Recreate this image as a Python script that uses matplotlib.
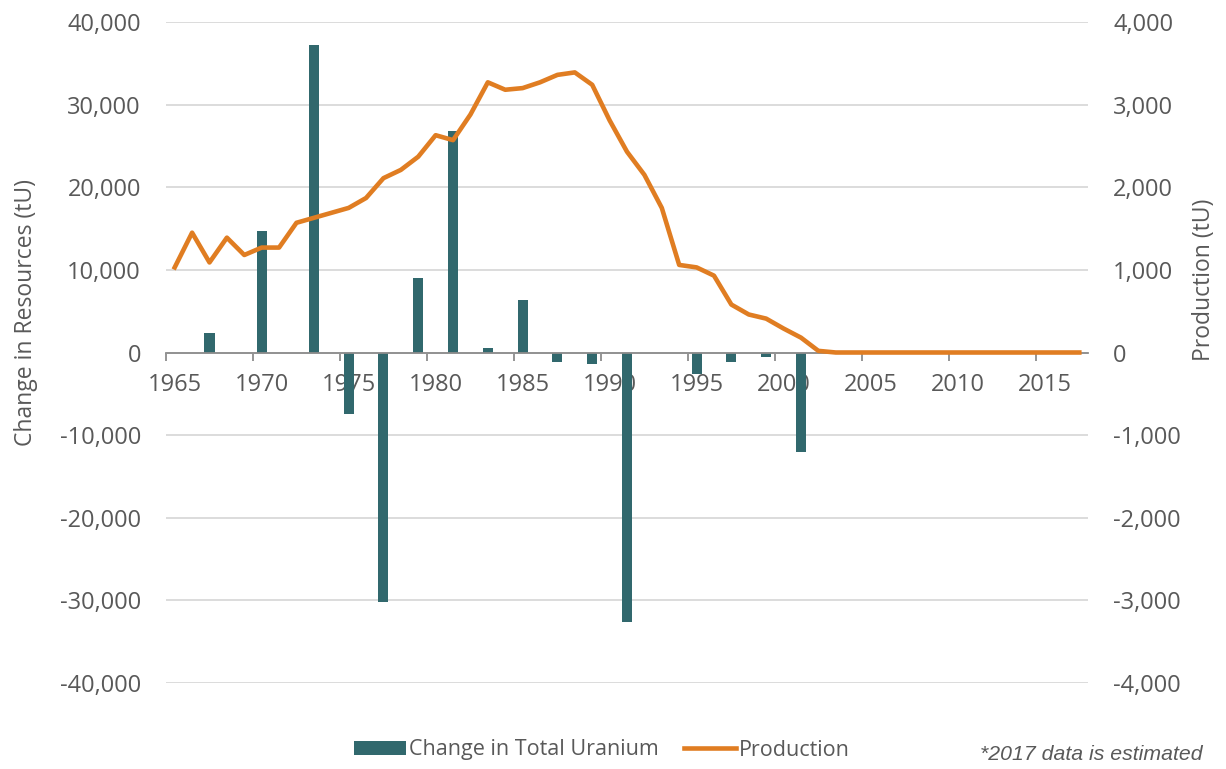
import matplotlib
matplotlib.use("Agg")
import matplotlib.pyplot as plt
from matplotlib.ticker import FuncFormatter, FixedLocator
import numpy as np

# ---- data ----
years = list(range(1965, 2018))
change_years = [1967, 1970, 1973, 1975, 1977, 1979, 1981, 1983, 1985,
                1987, 1989, 1991, 1995, 1997, 1999, 2001]
change_values = [2400, 14700, 37200, -7500, -30200, 9000, 26800, 600, 6300,
                 -1200, -1400, -32600, -2650, -1200, -500, -12000]
production = [1030, 1450, 1090, 1390, 1180, 1270, 1270, 1570, 1630, 1690,
              1750, 1870, 2110, 2210, 2370, 2630, 2570, 2880, 3270, 3180,
              3200, 3270, 3360, 3390, 3240, 2810, 2430, 2150, 1750, 1060,
              1030, 930, 580, 460, 410, 290, 180, 20, 0, 0,
              0, 0, 0, 0, 0, 0, 0, 0, 0, 0,
              0, 0, 0]
label_years = [1965, 1970, 1975, 1980, 1985, 1990, 1995, 2000, 2005, 2010, 2015]

BAR = "#31686D"
LINE = "#E07D22"
TXT = "#595959"
GRID = "#D9D9D9"
FONT = "Open Sans"

fig = plt.figure(figsize=(12.26, 7.69), dpi=100)
ax = fig.add_axes([166/1226, 86/769, 922/1226, 661/769])
ax2 = ax.twinx()

ax.bar(change_years, change_values, width=0.58, color=BAR, zorder=2,
       label="Change in Total Uranium")
ax2.plot(years, production, color=LINE, lw=3.3, solid_joinstyle="round",
         label="Production", zorder=3)

ax.set_xlim(1964.5, 2017.5)
ax.set_ylim(-40000, 40000)
ax2.set_ylim(-4000, 4000)

ax.set_yticks(np.arange(-40000, 40001, 10000))
ax2.set_yticks(np.arange(-4000, 4001, 1000))
fmt = FuncFormatter(lambda v, p: f"{int(round(v)):,}")
ax.yaxis.set_major_formatter(fmt)
ax2.yaxis.set_major_formatter(fmt)

ax.set_xticks(label_years)
ax.set_xticklabels([str(y) for y in label_years])
ax.xaxis.set_minor_locator(FixedLocator([y - 0.5 for y in label_years]))

for s in ["top", "left", "right"]:
    ax.spines[s].set_visible(False)
for s in ["top", "left", "right", "bottom"]:
    ax2.spines[s].set_visible(False)
ax.spines["bottom"].set_position(("data", 0))
ax.spines["bottom"].set_color("#8C8C8C")
ax.spines["bottom"].set_linewidth(1.3)
ax.spines["bottom"].set_zorder(2.5)

ax.grid(axis="y", color=GRID, lw=1.3, zorder=0)
ax.set_axisbelow(True)

ax.tick_params(axis="x", which="major", length=0, pad=15, labelsize=17, labelcolor=TXT)
ax.tick_params(axis="x", which="minor", length=6, width=1.3, color="#8C8C8C", direction="out")
ax.tick_params(axis="y", length=0, pad=18, labelsize=17, labelcolor=TXT)
ax2.tick_params(axis="y", length=0, pad=18, labelsize=17, labelcolor=TXT)
for lab in ax.get_xticklabels() + ax.get_yticklabels() + ax2.get_yticklabels():
    lab.set_fontfamily(FONT)

fig.text(26/1226, 1 - 312/769, "Change in Resources (tU)", rotation=90,
         ha="center", va="center", fontsize=16.5, color=TXT, family=FONT)
fig.text(1204/1226, 1 - 280/769, "Production (tU)", rotation=90,
         ha="center", va="center", fontsize=16.5, color=TXT, family=FONT)

h1, l1 = ax.get_legend_handles_labels()
h2, l2 = ax2.get_legend_handles_labels()
fig.legend(h1 + h2, l1 + l2, loc="center", bbox_to_anchor=(602/1226, 1 - 750/769),
           ncol=2, frameon=False, handlelength=2.4, handleheight=0.6,
           handletextpad=0.15, columnspacing=1.2,
           prop={"family": FONT, "size": 15.5}, labelcolor=TXT)

fig.text(980/1226, 1 - 755/769, "*2017 data is estimated", ha="left", va="center",
         fontsize=15.3, style="italic", color=TXT, family="Liberation Sans")

fig.savefig("out.png", dpi=100)
